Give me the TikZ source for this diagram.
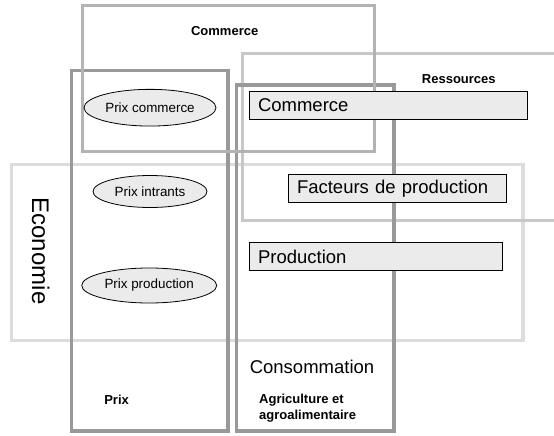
\documentclass[tikz,border=0pt]{standalone}
\usepackage{fontspec}
\setmainfont{Liberation Sans}
\usetikzlibrary{shapes.geometric}
\definecolor{econcol}{HTML}{DCDCDC}
\definecolor{rescol}{HTML}{C8C8C8}
\definecolor{comcol}{HTML}{B3B3B3}
\definecolor{darkcol}{HTML}{999999}
\definecolor{fillcol}{HTML}{EBEBEB}
\begin{document}
\begin{tikzpicture}[x=1pt,y=-1pt,
  frame/.style={draw, rectangle, inner sep=0pt, outer sep=0pt},
  fillbox/.style={draw=black, line width=0.8pt, fill=fillcol, rectangle, inner ysep=0pt, inner xsep=9pt, align=left,
    font=\fontsize{18.5}{20}\selectfont},
  oval/.style={draw=black, line width=0.8pt, fill=fillcol, ellipse, inner sep=0pt,
    font=\fontsize{13.4}{15}\selectfont},
  boldlabel/.style={font=\bfseries\fontsize{13}{16.7}\selectfont, inner sep=0pt},
  biglabel/.style={font=\fontsize{18.5}{20}\selectfont, inner sep=0pt}]
\useasboundingbox (0,0) rectangle (554,436);
\begin{scope}
\clip (0,0) rectangle (554,436);
\node[frame, draw=econcol, line width=3.5pt, minimum width=511.3pt, minimum height=176.4pt] (economie) at (267.35,252.5) {};
\node[frame, draw=rescol, line width=3pt, minimum width=358pt, minimum height=166.7pt] (ressources) at (421,136.65) {};
\node[frame, draw=darkcol, line width=3.5pt, minimum width=156.3pt, minimum height=360.3pt] (prix) at (149.85,250.85) {};
\node[frame, draw=darkcol, line width=3.5pt, minimum width=157.3pt, minimum height=346pt] (agri) at (315.35,258) {};
\node[frame, draw=comcol, line width=3pt, minimum width=292.3pt, minimum height=145.5pt] (commercetop) at (228.45,78.3) {};
\end{scope}
\node[fillbox, minimum width=278pt, minimum height=27.6pt, text width=260pt] (commercebox) at (388,105.5) {Commerce};
\node[fillbox, minimum width=218pt, minimum height=28.4pt, text width=200pt] (facteurs) at (397,188.5) {Facteurs de production};
\node[fillbox, minimum width=253.5pt, minimum height=28pt, text width=235.5pt] (production) at (375.75,256.7) {Production};
\node[oval, minimum width=132pt, minimum height=36.7pt] (prixcommerce) at (150,107.7) {Prix commerce};
\node[oval, minimum width=114pt, minimum height=32pt] (prixintrants) at (150,191.5) {Prix intrants};
\node[oval, minimum width=135pt, minimum height=35pt] (prixproduction) at (149.2,285.5) {Prix production};
\node[boldlabel] (commercelabel) at (224.7,30.7) {Commerce};
\node[boldlabel] (ressourceslabel) at (458.8,78.7) {Ressources};
\node[boldlabel] (prixlabel) at (116.6,400) {Prix};
\node[boldlabel, align=left, anchor=west] (agrilabel) at (259,408.3) {Agriculture et\\agroalimentaire};
\node[biglabel] (consommation) at (312,367.3) {Consommation};
\node[font=\fontsize{24}{26}\selectfont, inner sep=0pt, rotate=-90] (economielabel) at (40.7,251) {Economie};
\end{tikzpicture}
\end{document}
